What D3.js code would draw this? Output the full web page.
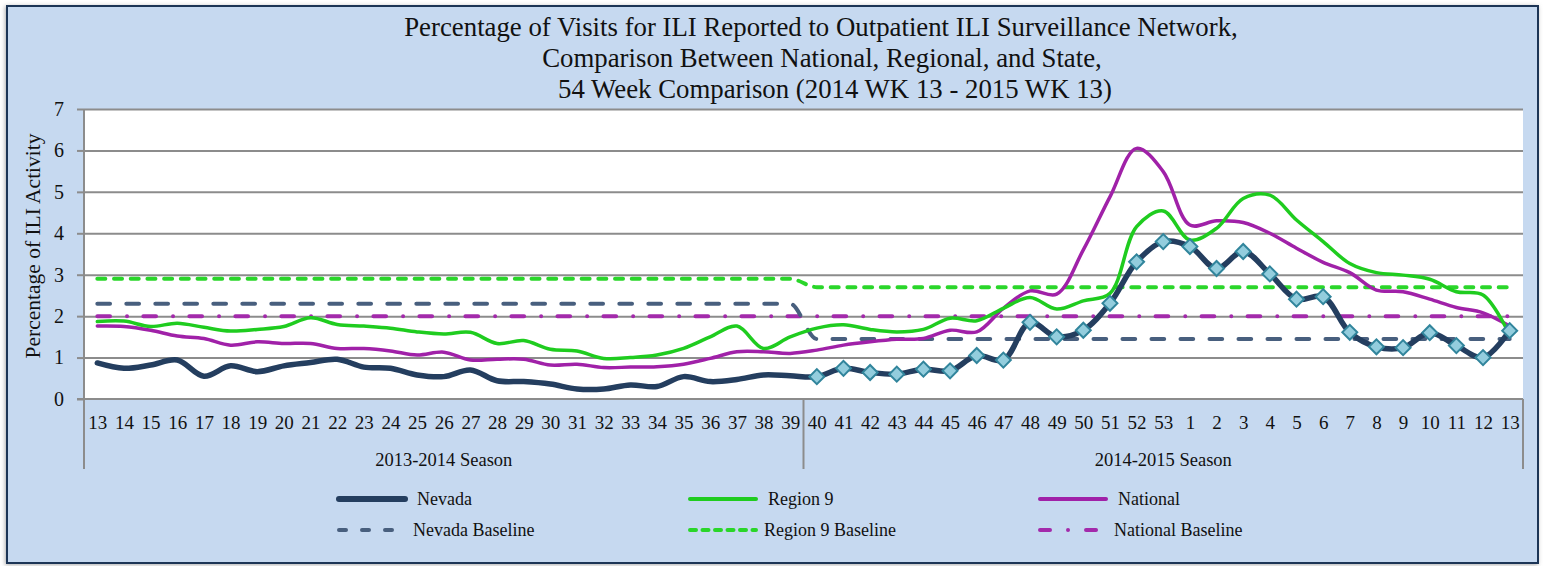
<!DOCTYPE html>
<html>
<head>
<meta charset="utf-8">
<script src="https://cdn.jsdelivr.net/npm/d3@7"></script>
<style>
  html, body { margin: 0; padding: 0; background: #ffffff; }
  svg { display: block; }
  text { font-family: "Liberation Serif", "Times New Roman", serif; fill: #111; }
</style>
</head>
<body>
<svg id="chart" width="1544" height="566"></svg>
<script>
// ---------------- DATA ----------------
const weekLabels = ["13","14","15","16","17","18","19","20","21","22","23","24","25","26","27","28","29","30","31","32","33","34","35","36","37","38","39",
                    "40","41","42","43","44","45","46","47","48","49","50","51","52","53","1","2","3","4","5","6","7","8","9","10","11","12","13"];
const seasonNames = ["2013-2014 Season", "2014-2015 Season"];
const seasonWeekCounts = [27, 27];

const nevada = [0.87,0.74,0.82,0.94,0.55,0.80,0.66,0.80,0.88,0.96,0.77,0.74,0.58,0.54,0.70,0.44,0.42,0.36,0.24,0.24,0.34,0.30,0.54,0.42,0.47,0.58,0.56,
                0.54,0.74,0.64,0.60,0.72,0.68,1.05,0.94,1.85,1.50,1.66,2.31,3.31,3.80,3.68,3.15,3.56,3.02,2.41,2.47,1.61,1.26,1.24,1.60,1.29,1.00,1.65];
const region9 = [1.87,1.88,1.75,1.83,1.73,1.64,1.68,1.75,1.96,1.80,1.76,1.71,1.62,1.57,1.61,1.34,1.41,1.20,1.16,0.98,1.00,1.06,1.22,1.50,1.76,1.22,1.50,
                 1.71,1.79,1.68,1.62,1.68,1.95,1.89,2.19,2.45,2.17,2.37,2.55,4.16,4.54,3.84,4.12,4.84,4.92,4.32,3.80,3.27,3.05,2.99,2.89,2.59,2.51,1.55];
const national = [1.76,1.75,1.66,1.52,1.46,1.30,1.38,1.34,1.34,1.22,1.22,1.16,1.06,1.13,0.94,0.96,0.96,0.82,0.84,0.76,0.77,0.78,0.84,0.98,1.14,1.14,1.10,
                  1.18,1.30,1.38,1.44,1.46,1.66,1.62,2.19,2.61,2.53,3.60,4.88,6.05,5.49,4.20,4.30,4.26,4.00,3.64,3.30,3.05,2.63,2.59,2.41,2.21,2.08,1.76];
const nevadaBaseline = [2.3,2.3,2.3,2.3,2.3,2.3,2.3,2.3,2.3,2.3,2.3,2.3,2.3,2.3,2.3,2.3,2.3,2.3,2.3,2.3,2.3,2.3,2.3,2.3,2.3,2.3,2.3,
                        1.45,1.45,1.45,1.45,1.45,1.45,1.45,1.45,1.45,1.45,1.45,1.45,1.45,1.45,1.45,1.45,1.45,1.45,1.45,1.45,1.45,1.45,1.45,1.45,1.45,1.45,1.45];
const region9Baseline = [2.9,2.9,2.9,2.9,2.9,2.9,2.9,2.9,2.9,2.9,2.9,2.9,2.9,2.9,2.9,2.9,2.9,2.9,2.9,2.9,2.9,2.9,2.9,2.9,2.9,2.9,2.9,
                         2.7,2.7,2.7,2.7,2.7,2.7,2.7,2.7,2.7,2.7,2.7,2.7,2.7,2.7,2.7,2.7,2.7,2.7,2.7,2.7,2.7,2.7,2.7,2.7,2.7,2.7,2.7];
const nationalBaseline = [2.0,2.0,2.0,2.0,2.0,2.0,2.0,2.0,2.0,2.0,2.0,2.0,2.0,2.0,2.0,2.0,2.0,2.0,2.0,2.0,2.0,2.0,2.0,2.0,2.0,2.0,2.0,
                          2.0,2.0,2.0,2.0,2.0,2.0,2.0,2.0,2.0,2.0,2.0,2.0,2.0,2.0,2.0,2.0,2.0,2.0,2.0,2.0,2.0,2.0,2.0,2.0,2.0,2.0,2.0];
const yTicks = [0,1,2,3,4,5,6,7];
const titleLines = ["Percentage of Visits for ILI Reported to Outpatient ILI Surveillance Network,",
                    "Comparison Between National, Regional, and State,",
                    "54 Week Comparison (2014 WK 13 - 2015 WK 13)"];
const yAxisTitle = "Percentage of ILI Activity";

// ---------------- STYLES ----------------
const series = [
  {name: "National Baseline", values: nationalBaseline, color: "#a32aab", width: 4, dash: "12.7,17,0.01,16.3", base: true, legend: [2,1]},
  {name: "Nevada Baseline",   values: nevadaBaseline,   color: "#485f7e", width: 4, dash: "12.7,16.3", base: true, legend: [0,1]},
  {name: "Region 9 Baseline", values: region9Baseline,  color: "#2ad62a", width: 4, dash: "8,8.7", base: true, legend: [1,1]},
  {name: "National",          values: national,         color: "#a021a8", width: 3.5, dash: null, base: false, legend: [2,0]},
  {name: "Region 9",          values: region9,          color: "#1fcc1f", width: 3.5, dash: null, base: false, legend: [1,0]},
  {name: "Nevada",            values: nevada,           color: "#243e5f", width: 5.5, dash: null, base: false, legend: [0,0]}
];

const plot = {left: 84, right: 1523, top: 109, bottom: 399};
const svg = d3.select("#chart");

// Frame with shadow
const defs = svg.append("defs");
const f = defs.append("filter").attr("id","shadow").attr("x","-5%").attr("y","-5%").attr("width","110%").attr("height","110%");
f.append("feDropShadow").attr("dx",-1).attr("dy",1).attr("stdDeviation",2).attr("flood-color","#777").attr("flood-opacity",0.6);
svg.append("rect").attr("x",7).attr("y",6).attr("width",1531).attr("height",557)
   .attr("fill","#c6d9f0").attr("stroke","#1b3456").attr("stroke-width",2).attr("filter","url(#shadow)");

// Plot background
svg.append("rect").attr("x",plot.left).attr("y",plot.top)
   .attr("width",plot.right-plot.left).attr("height",plot.bottom-plot.top).attr("fill","#ffffff");

// Scales
const idx = d3.range(weekLabels.length);
const x = d3.scalePoint().domain(idx).range([plot.left, plot.right]).padding(0.5);
const y = d3.scaleLinear().domain([0,7]).range([plot.bottom, plot.top]);
const step = x.step();

// Gridlines
const grid = svg.append("g").attr("transform",`translate(${plot.left},0)`)
  .call(d3.axisLeft(y).tickValues(yTicks.filter(d=>d>0)).tickSize(-(plot.right-plot.left)).tickFormat(""));
grid.select(".domain").remove();
grid.selectAll("line").attr("stroke","#8c8c8c").attr("stroke-width",2);

// Y axis
const yAxis = svg.append("g").attr("transform",`translate(${plot.left},0)`)
  .call(d3.axisLeft(y).tickValues(yTicks).tickSize(7).tickPadding(13).tickFormat(d3.format("d")));
yAxis.select(".domain").attr("stroke","#8c8c8c").attr("stroke-width",2).attr("d",`M0,${plot.top}V${plot.bottom}`);
yAxis.selectAll(".tick line").attr("stroke","#8c8c8c").attr("stroke-width",2);
yAxis.selectAll(".tick text").attr("font-size",20).attr("fill","#111").attr("font-family","Liberation Serif");

// X axis (weeks)
const xAxis = svg.append("g").attr("transform",`translate(0,${plot.bottom})`)
  .call(d3.axisBottom(x).tickSize(0).tickFormat(i => weekLabels[i]));
xAxis.select(".domain").attr("stroke","#8c8c8c").attr("stroke-width",2).attr("d",`M${plot.left-7},0H${plot.right}`);
xAxis.selectAll(".tick text").attr("font-size",19).attr("y",30).attr("dy",0).attr("fill","#111").attr("font-family","Liberation Serif");

// Season separators and labels
let start = 0;
const bounds = [0];
seasonWeekCounts.forEach(c => { start += c; bounds.push(start); });
const sepX = bounds.map(b => b === 0 ? x(0) - step/2 : x(b-1) + step/2);
svg.append("g").selectAll("line").data(sepX).join("line")
   .attr("x1",d=>d).attr("x2",d=>d).attr("y1",plot.bottom).attr("y2",469)
   .attr("stroke","#8c8c8c").attr("stroke-width",2);
svg.append("g").selectAll("text").data(seasonNames).join("text")
   .attr("x",(d,i)=>(sepX[i]+sepX[i+1])/2).attr("y",466).attr("text-anchor","middle")
   .attr("font-size",18.5).text(d=>d);

// Lines
const line = d3.line().x((d,i)=>x(i)).y(d=>y(d)).curve(d3.curveCatmullRom.alpha(0.5));
const baseLine = d3.line().x((d,i)=>x(i)).y(d=>y(d)).curve(d3.curveMonotoneX);
const gLines = svg.append("g");
series.forEach(s => {
  gLines.append("path").attr("d", (s.base ? baseLine : line)(s.values)).attr("fill","none")
    .attr("stroke", s.color).attr("stroke-width", s.width)
    .attr("stroke-linecap", "round").attr("stroke-linejoin","round")
    .attr("stroke-dasharray", s.dash);
});

// Nevada markers (2014-2015 season)
const markerIdx = idx.filter(i => i >= bounds[1]);
const sym = d3.symbol().type(d3.symbolSquare).size(112);
svg.append("g").selectAll("path").data(markerIdx).join("path")
   .attr("d", sym())
   .attr("transform", i => `translate(${x(i)},${y(nevada[i])}) rotate(45)`)
   .attr("fill","#93cddd").attr("stroke","#31859c").attr("stroke-width",2);

// Title
svg.append("g").selectAll("text").data(titleLines).join("text")
   .attr("x",(d,i)=>[821,822,835][i]).attr("y",(d,i)=>36+i*31)
   .attr("text-anchor","middle").attr("font-size",26.8).text(d=>d);

// Y axis title
svg.append("text").attr("transform","translate(40,246) rotate(-90)")
   .attr("text-anchor","middle").attr("font-size",21.5).text(yAxisTitle);

// Legend
const legColX = [337, 688, 1038];
const legRowY = [499, 530];
const leg = svg.append("g");
series.forEach(s => {
  const lx = legColX[s.legend[0]], ly = legRowY[s.legend[1]];
  leg.append("line").attr("x1",lx+2).attr("x2",lx+68).attr("y1",ly).attr("y2",ly)
     .attr("stroke",s.color).attr("stroke-width", s.name==="Nevada" ? 6 : 4)
     .attr("stroke-linecap","round")
     .attr("stroke-dasharray", s.name==="Nevada Baseline" ? "7,16" : s.name==="Region 9 Baseline" ? "6,6.5" : s.name==="National Baseline" ? "10,18,0.01,18" : null);
  leg.append("text").attr("x", lx + (s.legend[1]===0 ? 80 : 76)).attr("y", ly+6)
     .attr("font-size",18).text(s.name);
});
</script>
</body>
</html>
